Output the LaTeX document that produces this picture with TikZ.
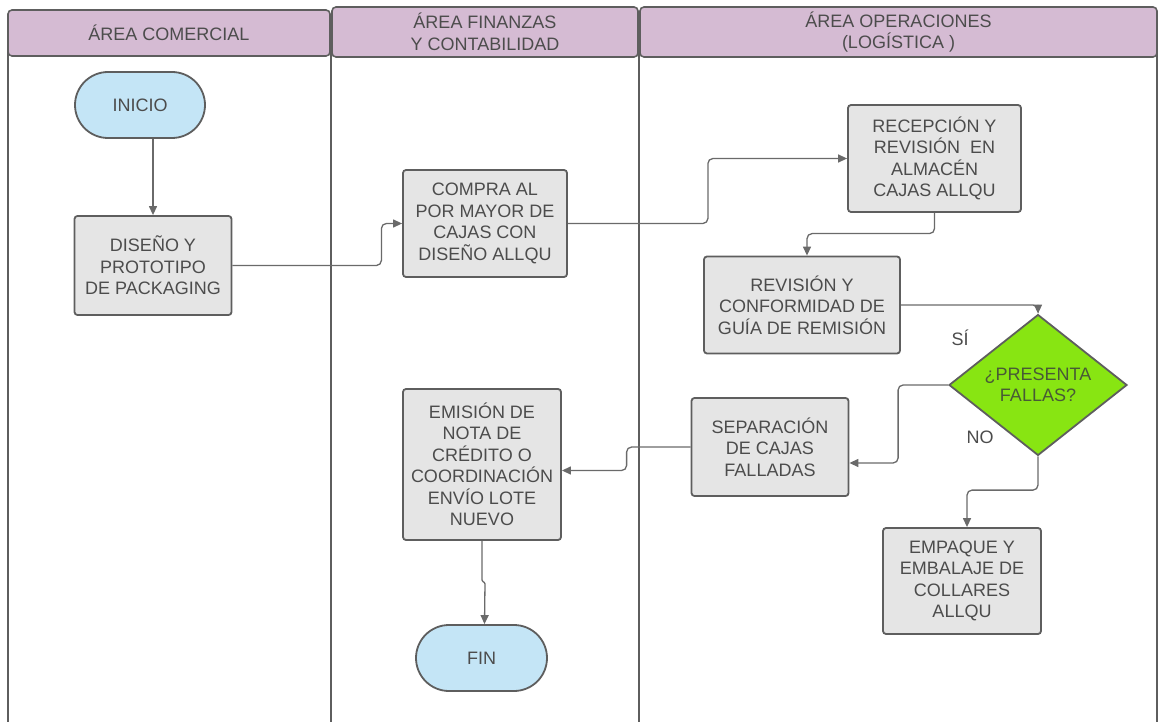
\documentclass[tikz,border=0pt]{standalone}
\usepackage{fontspec}
\setmainfont{Liberation Sans}
\usetikzlibrary{arrows.meta,shapes.geometric,shapes.misc,calc}
\definecolor{hdrfill}{HTML}{D5BBD3}
\definecolor{boxfill}{HTML}{E5E5E5}
\definecolor{termfill}{HTML}{C4E5F6}
\definecolor{decfill}{HTML}{88E512}
\definecolor{edge}{HTML}{5E5E5E}
\definecolor{wire}{HTML}{6A6A6A}
\definecolor{txt}{HTML}{4C4C4C}
\definecolor{dectxt}{HTML}{485A36}

\begin{document}
\begin{tikzpicture}[x=1pt,y=-1pt,
  font=\fontsize{18}{21.5}\selectfont, text=txt,
  lanebody/.style={draw=edge, line width=1.6pt},
  lanehead/.style={draw=edge, fill=hdrfill, rounded corners=4pt, line width=1.6pt,
    align=center, inner sep=0pt},
  procbox/.style={draw=edge, fill=boxfill, rounded corners=3pt, line width=1.8pt,
    align=center, inner sep=0pt},
  termbox/.style={rounded rectangle, draw=edge, fill=termfill, line width=1.8pt,
    inner sep=0pt, minimum height=66pt, minimum width=130pt},
  decbox/.style={diamond, draw=edge, fill=decfill, line width=1.8pt, inner sep=0pt,
    align=center, text=dectxt},
  flow/.style={draw=wire, line width=1.3pt, rounded corners=5pt,
    -{Triangle[length=9pt,width=8pt]}},
  tag/.style={inner sep=0pt}]

\useasboundingbox (0,0) rectangle (1159,722);

% swimlane bodies
\draw[lanebody] (8,50) -- (8,722);
\draw[lanebody] (331,50) -- (331,722);
\draw[lanebody] (639,50) -- (639,722);
\draw[lanebody] (1157,50) -- (1157,722);

% swimlane headers
\node[lanehead, minimum width=322pt, minimum height=46pt] (h1) at (169,33) {ÁREA COMERCIAL};
\node[lanehead, minimum width=306pt, minimum height=50pt] (h2) at (485,32) {ÁREA FINANZAS\\Y CONTABILIDAD};
\node[lanehead, minimum width=517pt, minimum height=50pt] (h3) at (898.5,32) {ÁREA OPERACIONES\\(LOGÍSTICA )};

% steps
\node[termbox] (inicio) at (140,105) {INICIO};
\node[procbox, minimum width=157pt, minimum height=99pt] (diseno) at (153,265.5) {DISEÑO Y\\PROTOTIPO\\DE PACKAGING};
\node[procbox, minimum width=164pt, minimum height=107pt] (compra) at (485,223.5) {COMPRA AL\\POR MAYOR DE\\CAJAS CON\\DISEÑO ALLQU};
\node[procbox, minimum width=173pt, minimum height=107pt] (recep) at (934.5,158.5) {RECEPCIÓN Y\\REVISIÓN\ \ EN\\ALMACÉN\\CAJAS ALLQU};
\node[procbox, minimum width=196pt, minimum height=97pt] (revis) at (802,305) {REVISIÓN Y\\CONFORMIDAD DE\\GUÍA DE REMISIÓN};
\node[decbox, minimum width=178pt, minimum height=140pt] (dec) at (1038,385) {¿PRESENTA\\FALLAS?};
\node[procbox, minimum width=157pt, minimum height=98pt] (sep) at (770,447) {SEPARACIÓN\\DE CAJAS\\FALLADAS};
\node[procbox, minimum width=158pt, minimum height=151pt] (emi) at (482,464.5) {EMISIÓN DE\\NOTA DE\\CRÉDITO O\\COORDINACIÓN\\ENVÍO LOTE\\NUEVO};
\node[termbox, minimum width=131pt] (fin) at (481.5,658) {FIN};
\node[procbox, minimum width=158pt, minimum height=106pt] (emp) at (962,581) {EMPAQUE Y\\EMBALAJE DE\\COLLARES\\ALLQU};

% decision labels
\node[tag] (si) at (960,338) {SÍ};
\node[tag] (no) at (980,437) {NO};

% connectors
\draw[flow] (inicio.south -| diseno.north) -- (diseno.north);
\draw[flow] (diseno.east) -- ++(149,0) |- (compra.west);
\draw[flow] (compra.east) -- ++(140,0) |- (recep.west);
\draw[flow] (recep.south) |- ($(revis.north)+(5,-22)$) -- ($(revis.north)+(5,0)$);
\draw[flow] (revis.east) -| (dec.north);
\draw[flow] (dec.west) -- ++(-50,0) |- ($(sep.east)+(0,16)$);
\draw[flow] (dec.south) |- ($(emp.north)+(5,-37)$) -- ($(emp.north)+(5,0)$);
\draw[flow] (sep.west) -- ++(-64,0) |- ($(emi.east)+(0,6)$);
\draw[flow, rounded corners=1pt] (emi.south) -- ++(0,40) -- ++(3,2) -- ($(fin.north)+(3,0)$);
\end{tikzpicture}
\end{document}
